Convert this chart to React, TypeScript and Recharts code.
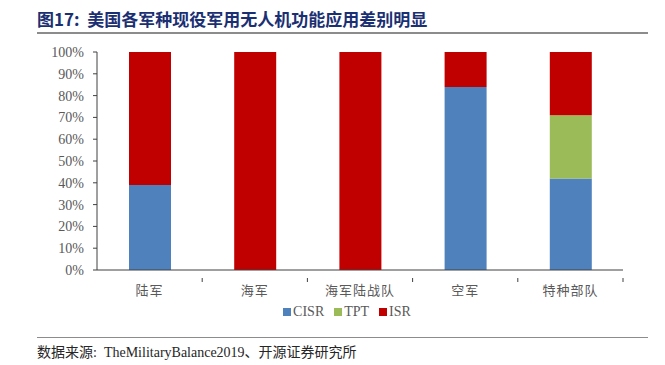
import { Bar, BarChart, XAxis, YAxis } from 'recharts';

const categories = ['陆军', '海军', '海军陆战队', '空军', '特种部队'];
const cisr = [0.39, 0, 0, 0.84, 0.42];
const tpt = [0, 0, 0, 0, 0.29];
const isr = [0.61, 1, 1, 0.16, 0.29];
const yTicks = [0, 0.1, 0.2, 0.3, 0.4, 0.5, 0.6, 0.7, 0.8, 0.9, 1];

const SERIES = [
  { key: 'CISR', color: '#4F81BD' },
  { key: 'TPT', color: '#9BBB59' },
  { key: 'ISR', color: '#C00000' },
];

const data = categories.map((name, i) => ({
  name,
  CISR: cisr[i],
  TPT: tpt[i],
  ISR: isr[i],
}));

const CHART_W = 665;
const CHART_H = 300;
const MARGIN = { top: 52, right: 42, left: 0, bottom: 0 };
const Y_W = 97;
const BAND = (CHART_W - MARGIN.right - Y_W) / categories.length;

const SERIF = 'Liberation Serif, Noto Sans CJK SC, serif';
const CJK = 'Noto Sans CJK SC, sans-serif';

function CategoryTick(props: { x?: number; y?: number; payload?: { value: string } }) {
  const x = props.x ?? 0;
  const y = props.y ?? 0;
  return (
    <g>
      <line x1={x + BAND / 2} x2={x + BAND / 2} y1={y} y2={y + 4} stroke="#404040" />
      <text x={x} y={y + 17} textAnchor="middle" fontSize={13} fill="#595959" fontFamily={CJK} letterSpacing={1}>
        {props.payload?.value}
      </text>
    </g>
  );
}

function PctTick(props: { x?: number; y?: number; payload?: { value: number } }) {
  const x = props.x ?? 0;
  const y = props.y ?? 0;
  return (
    <text x={x} y={y + 5} textAnchor="end" fontSize={14} fill="#595959" fontFamily={SERIF}>
      {`${Math.round(Number(props.payload?.value ?? 0) * 100)}%`}
    </text>
  );
}

export default function App() {
  return (
    <div style={{ position: 'relative', width: CHART_W, height: 365, background: '#fff', fontFamily: SERIF }}>
      <style>{'body{margin:0}'}</style>
      <div
        style={{
          position: 'absolute',
          left: 37,
          top: 6,
          fontFamily: CJK,
          fontWeight: 700,
          fontSize: 17,
          color: '#1B2F73',
          whiteSpace: 'pre',
        }}
      >
        图17:  美国各军种现役军用无人机功能应用差别明显
      </div>
      <div style={{ position: 'absolute', left: 37, top: 32, width: 611, height: 2, background: '#8C8C8C' }} />

      <BarChart width={CHART_W} height={CHART_H} data={data} margin={MARGIN} barSize={42}>
        <XAxis
          dataKey="name"
          height={30}
          interval={0}
          axisLine={{ stroke: '#404040' }}
          tickLine={false}
          tick={<CategoryTick />}
        />
        <YAxis
          width={Y_W}
          domain={[0, 1]}
          ticks={yTicks}
          interval={0}
          axisLine={{ stroke: '#404040' }}
          tickLine={{ stroke: '#404040' }}
          tickSize={4}
          tickMargin={9}
          tick={<PctTick />}
        />
        {SERIES.map((s) => (
          <Bar key={s.key} dataKey={s.key} stackId="a" fill={s.color} isAnimationActive={false} />
        ))}
      </BarChart>

      <div
        style={{
          position: 'absolute',
          left: 0,
          width: 694,
          top: 304,
          display: 'flex',
          justifyContent: 'center',
          gap: 10,
          fontSize: 14,
          color: '#595959',
          fontFamily: SERIF,
        }}
      >
        {SERIES.map((s) => (
          <span key={s.key} style={{ display: 'flex', alignItems: 'center', gap: 2 }}>
            <span style={{ width: 8, height: 8, background: s.color, display: 'inline-block' }} />
            {s.key}
          </span>
        ))}
      </div>

      <div style={{ position: 'absolute', left: 37, top: 337, width: 611, height: 1, background: '#8C8C8C' }} />
      <div
        style={{
          position: 'absolute',
          left: 37,
          top: 341,
          fontSize: 14,
          color: '#262626',
          fontFamily: SERIF,
          whiteSpace: 'pre',
        }}
      >
        数据来源:  TheMilitaryBalance2019、开源证券研究所
      </div>
    </div>
  );
}
